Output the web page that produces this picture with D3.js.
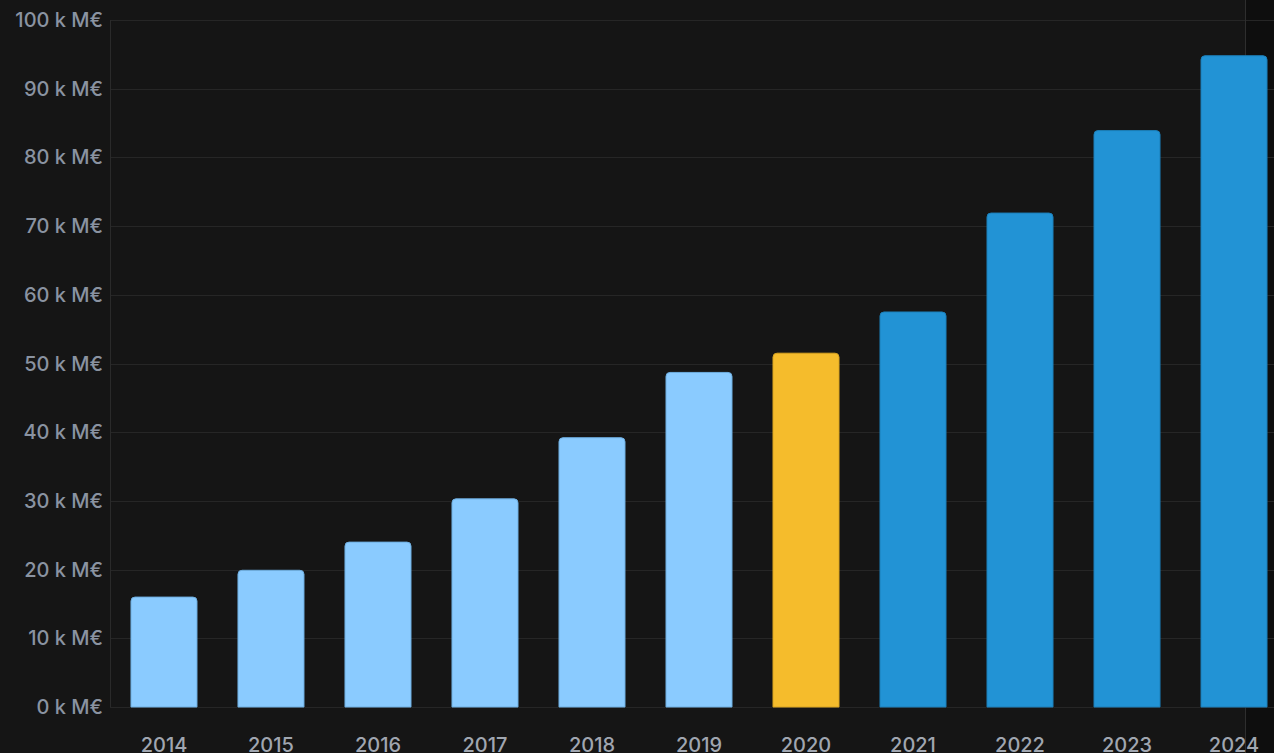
<!DOCTYPE html>
<html>
<head>
<meta charset="utf-8">
<script src="https://cdn.jsdelivr.net/npm/d3@7"></script>
<style>
  html, body { margin: 0; padding: 0; background: #151515; overflow: hidden; }
  text { font-family: Inter, "Noto Sans", sans-serif; font-weight: 500; }
</style>
</head>
<body>
<div id="chart"></div>
<script>
const years = ['2014', '2015', '2016', '2017', '2018', '2019', '2020', '2021', '2022', '2023', '2024'];
const values = [16.0, 19.9, 24.0, 30.3, 39.2, 48.7, 51.5, 57.5, 71.9, 83.9, 94.8];
const kinds = ['past', 'past', 'past', 'past', 'past', 'past', 'current', 'future', 'future', 'future', 'future'];
const yTicks = [0, 10, 20, 30, 40, 50, 60, 70, 80, 90, 100];

const width = 1274,
    height = 753;

const colour = d3.scaleOrdinal(['past', 'current', 'future'], ['#8acbff', '#f5bc2c', '#2293d5']);
const edge = d3.scaleOrdinal(['past', 'current', 'future'], ['#6eaee0', '#d9a420', '#1c7fb9']);

const svg = d3.select('#chart')
    .append('svg')
    .attr('width', width)
    .attr('height', height);

// darker strip past the panel edge
svg.append('rect')
    .attr('x', 1245).attr('y', 0)
    .attr('width', width - 1245).attr('height', height)
    .attr('fill', '#0e0e0e');

const x = d3.scaleBand()
    .domain(years)
    .range([110, 1288])
    .paddingInner(0.383)
    .paddingOuter(0.196);

const y = d3.scaleLinear()
    .domain([0, 100])
    .range([707, 20]);

// grid
svg.append('g')
    .selectAll('line')
    .data(yTicks)
    .enter().append('line')
    .attr('x1', 110)
    .attr('x2', width)
    .attr('y1', d => Math.round(y(d)) + 0.5)
    .attr('y2', d => Math.round(y(d)) + 0.5)
    .attr('stroke', '#262626');

svg.append('line')
    .attr('x1', 110.5).attr('x2', 110.5)
    .attr('y1', 20).attr('y2', 707)
    .attr('stroke', '#2a2a2a');

svg.append('line')
    .attr('x1', 1245.5).attr('x2', 1245.5)
    .attr('y1', 0).attr('y2', height)
    .attr('stroke', '#2e2e2e');

// bars, rounded on top only
function barPath(d, i) {
    const x0 = x(years[i]), w = x.bandwidth();
    const y0 = y(d), y1 = y(0), r = 4;
    return `M${x0},${y1} L${x0},${y0 + r} Q${x0},${y0} ${x0 + r},${y0} ` +
        `L${x0 + w - r},${y0} Q${x0 + w},${y0} ${x0 + w},${y0 + r} L${x0 + w},${y1} Z`;
}

svg.append('g')
    .selectAll('path')
    .data(values)
    .enter().append('path')
    .attr('d', barPath)
    .attr('fill', (d, i) => colour(kinds[i]))
    .attr('stroke', (d, i) => edge(kinds[i]))
    .attr('stroke-width', 1);

// y labels
svg.append('g')
    .selectAll('text')
    .data(yTicks)
    .enter().append('text')
    .attr('x', 103)
    .attr('y', d => y(d))
    .attr('dy', '0.35em')
    .attr('text-anchor', 'end')
    .attr('font-size', 20)
    .attr('fill', '#8a93a1')
    .text(d => d + ' k M€');

// x labels
svg.append('g')
    .selectAll('text')
    .data(years)
    .enter().append('text')
    .attr('x', d => x(d) + x.bandwidth() / 2)
    .attr('y', 752)
    .attr('text-anchor', 'middle')
    .attr('font-size', 20)
    .attr('fill', '#a0a6b0')
    .text(d => d);
</script>
</body>
</html>
